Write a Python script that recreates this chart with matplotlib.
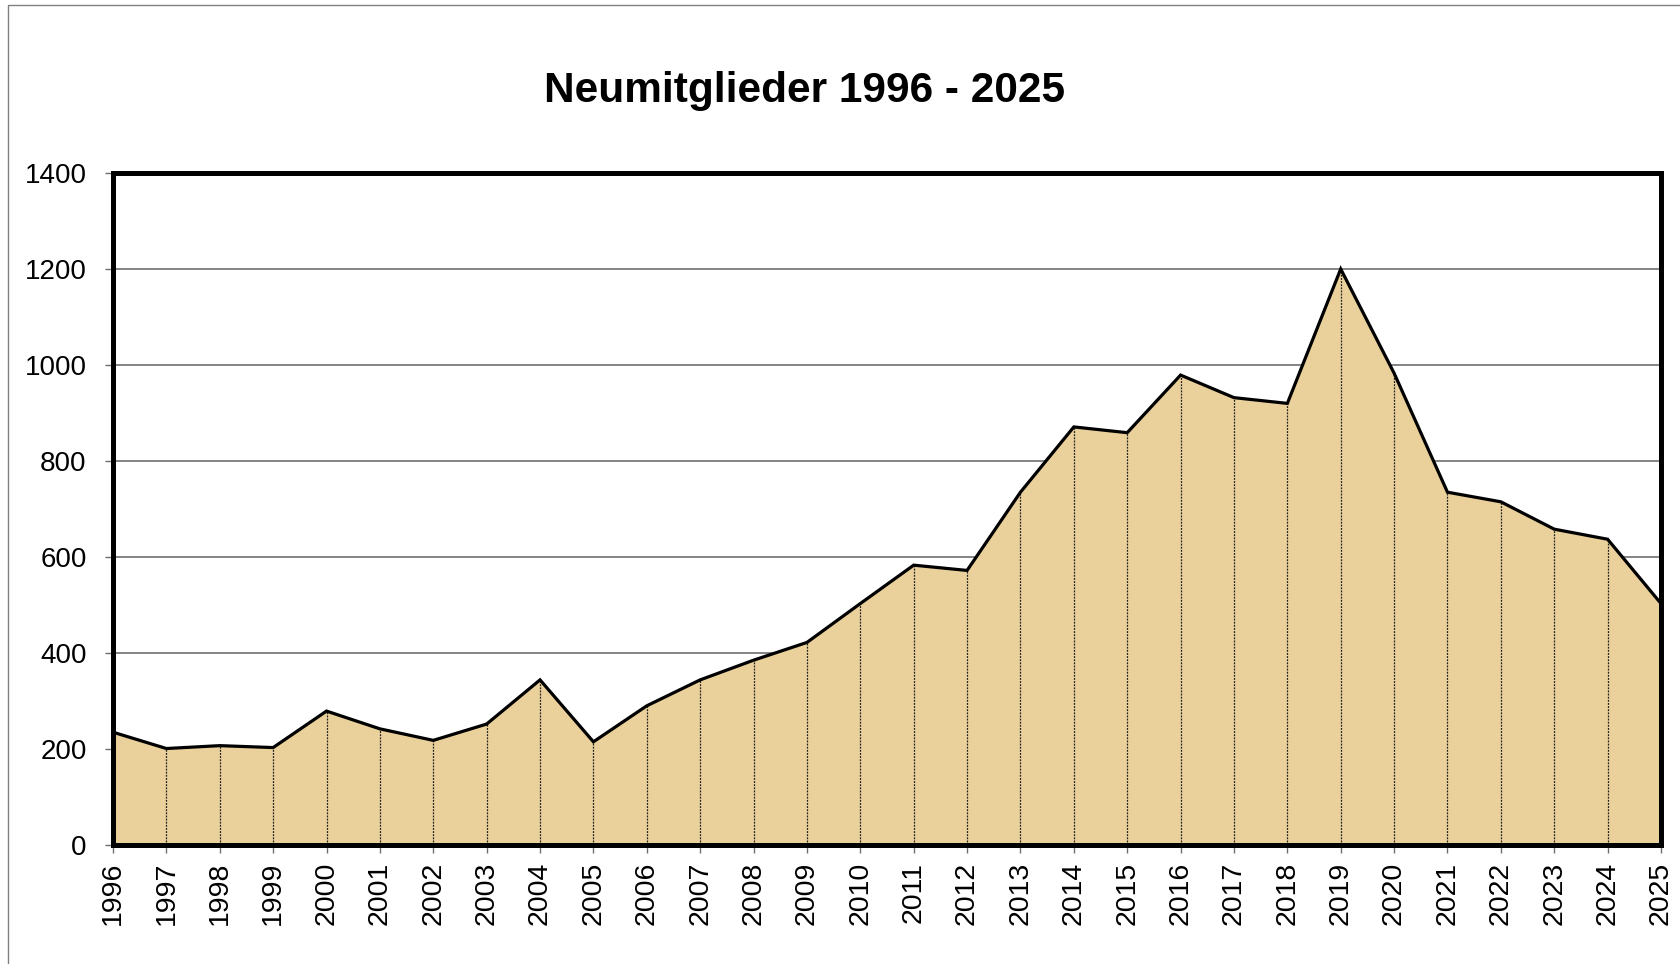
import matplotlib
matplotlib.use("Agg")
import matplotlib.pyplot as plt
from matplotlib.patches import Rectangle

plt.rcParams['font.family'] = ['Liberation Sans', 'DejaVu Sans']

years = list(range(1996, 2026))
year_labels = [str(y) for y in years]
members = [235, 201, 207, 203, 279, 242, 218, 252, 344, 215,
           290, 344, 385, 422, 503, 583, 572, 735, 871, 859,
           979, 932, 920, 1200, 983, 735, 715, 658, 637, 503]
y_ticks = [0, 200, 400, 600, 800, 1000, 1200, 1400]

W, H = 1681, 964
fig = plt.figure(figsize=(W / 100, H / 100), dpi=100)
fig.patch.set_facecolor('white')

# outer chart-area frame
fig.add_artist(Rectangle((8 / W, -0.2), 2.0, 1.2 - 5 / H, transform=fig.transFigure,
                         fill=False, edgecolor='#808080', linewidth=1.0))

ax = fig.add_axes([113 / W, 1 - 845 / H, (1661 - 113) / W, (845 - 173) / H])
ax.set_facecolor('white')

ax.fill_between(years, members, 0, color='#EAD09A', zorder=2, linewidth=0)
ax.vlines(years, 0, members, colors='#202020', linestyles=(0, (1.5, 1.0)), linewidth=0.9, zorder=3)
ax.plot(years, members, color='black', linewidth=2.3, zorder=4, solid_joinstyle='miter')

ax.set_xlim(years[0], years[-1])
ax.set_ylim(0, 1400)
ax.set_yticks(y_ticks)
ax.set_yticklabels([str(v) for v in y_ticks], fontsize=20)
ax.set_xticks(years)
ax.set_xticklabels(year_labels, rotation=90, fontsize=20.5, va='top')

ax.grid(axis='y', color='#707070', linewidth=1.2, zorder=1)
ax.set_axisbelow(True)
ax.tick_params(axis='both', direction='out', length=6, width=1.0, color='#707070')
ax.tick_params(axis='y', pad=13)
ax.tick_params(axis='x', pad=6)

for s in ax.spines.values():
    s.set_linewidth(3.6)
    s.set_color('black')
    s.set_zorder(5)

fig.text(805 / W, 1 - 91 / H, 'Neumitglieder 1996 - 2025', ha='center', va='center',
         fontsize=30.5, fontweight='bold')

fig.savefig('out.png', dpi=100)
